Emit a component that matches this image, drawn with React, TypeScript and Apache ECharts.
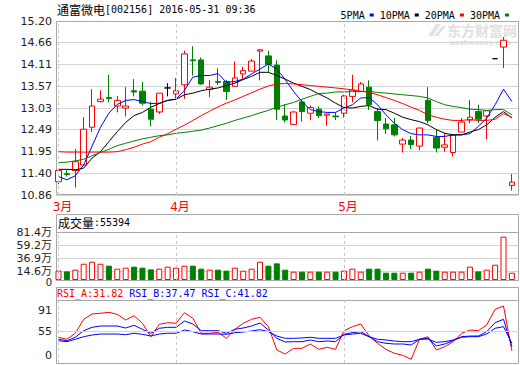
import React, { useEffect, useRef } from 'react';
import * as echarts from 'echarts';

const stockName = '通富微电';
const stockCode = '002156';
const stamp = '2016-05-31 09:36';
const lastVolume = 55394;
const rsiNow = [31.82, 37.47, 41.82];

const dates = [
  '2016-03-14', '2016-03-15', '2016-03-16', '2016-03-17', '2016-03-18', '2016-03-21', '2016-03-22',
  '2016-03-23', '2016-03-24', '2016-03-25', '2016-03-28', '2016-03-29', '2016-03-30', '2016-03-31',
  '2016-04-01', '2016-04-05', '2016-04-06', '2016-04-07', '2016-04-08', '2016-04-11', '2016-04-12',
  '2016-04-13', '2016-04-14', '2016-04-15', '2016-04-18', '2016-04-19', '2016-04-20', '2016-04-21',
  '2016-04-22', '2016-04-25', '2016-04-26', '2016-04-27', '2016-04-28', '2016-04-29',
  '2016-05-03', '2016-05-04', '2016-05-05', '2016-05-06', '2016-05-09', '2016-05-10', '2016-05-11',
  '2016-05-12', '2016-05-13', '2016-05-16', '2016-05-17', '2016-05-18', '2016-05-19', '2016-05-20',
  '2016-05-23', '2016-05-24', '2016-05-25', '2016-05-26', '2016-05-27', '2016-05-30', '2016-05-31',
];

// [open, close, low, high]
const ohlc: number[][] = [
  [11.19, 11.47, 11.13, 11.50], [11.39, 11.37, 11.32, 11.48], [11.47, 11.69, 11.05, 12.01],
  [11.61, 12.50, 11.60, 12.80], [12.55, 13.08, 12.43, 13.50], [13.19, 13.25, 13.17, 13.47],
  [13.29, 13.27, 13.17, 13.86], [13.08, 13.22, 12.92, 13.33], [13.03, 13.08, 12.82, 13.55],
  [13.46, 13.43, 13.32, 13.75], [13.45, 13.15, 13.09, 13.68], [13.00, 12.75, 12.57, 13.19],
  [12.93, 13.40, 12.88, 13.40], [13.53, 13.53, 13.32, 13.65], [13.38, 13.46, 13.28, 13.78],
  [13.61, 14.38, 13.26, 14.46], [14.23, 14.21, 13.84, 14.57], [14.23, 13.63, 13.61, 14.29],
  [13.49, 13.55, 13.30, 13.73], [13.69, 13.67, 13.60, 14.02], [13.69, 13.44, 13.23, 13.73],
  [13.57, 13.78, 13.57, 14.19], [13.88, 13.96, 13.76, 14.06], [13.95, 14.20, 13.95, 14.25],
  [14.45, 14.48, 13.72, 14.50], [14.33, 14.12, 13.92, 14.46], [14.10, 13.00, 12.73, 14.22],
  [12.83, 12.73, 12.67, 13.13], [12.62, 12.93, 12.61, 12.95], [13.18, 12.94, 12.69, 13.23],
  [12.90, 13.04, 12.73, 13.09], [13.00, 12.84, 12.78, 13.07], [12.85, 12.88, 12.59, 12.89],
  [12.83, 12.81, 12.73, 12.92], [12.90, 13.33, 12.79, 13.36], [13.32, 13.48, 13.17, 13.86],
  [13.44, 13.63, 13.44, 13.68], [13.55, 13.11, 12.98, 13.72], [12.94, 12.72, 12.22, 13.03],
  [12.63, 12.51, 12.38, 12.78], [12.61, 12.36, 12.32, 12.78], [12.13, 12.23, 11.92, 12.28],
  [12.23, 12.12, 12.00, 12.33], [12.08, 12.53, 11.97, 12.54], [13.22, 12.72, 12.65, 13.55],
  [12.30, 12.03, 11.92, 12.50], [12.05, 12.11, 11.94, 12.40], [11.92, 12.35, 11.82, 12.35],
  [12.43, 12.68, 12.43, 12.78], [12.73, 12.80, 12.65, 13.23], [12.94, 12.75, 12.65, 13.11],
  [12.83, 12.96, 12.25, 12.97], [14.26, 14.26, 14.26, 14.26], [14.55, 14.72, 14.03, 14.80],
  [11.10, 11.18, 10.97, 11.38],
];

const ma5 = [
  11.32, 11.24, 11.34, 11.61, 12.08, 12.55, 12.90, 13.12, 13.22, 13.24,
  13.19, 13.14, 13.15, 13.22, 13.25, 13.47, 13.80, 13.84, 13.84, 13.89,
  13.67, 13.69, 13.75, 13.88, 14.00, 14.13, 14.00, 13.74, 13.44, 13.19,
  12.99, 12.94, 12.92, 12.92, 13.03, 13.11, 13.28, 13.29, 13.11, 12.86,
  12.65, 12.49, 12.39, 12.36, 12.36, 12.32, 12.32, 12.36, 12.36, 12.39,
  12.57, 12.78, 13.11, 13.50, 13.19,
];
const ma10 = [
  11.50, 11.50, 11.49, 11.53, 11.78, 11.94, 12.19, 12.44, 12.67, 12.84,
  12.92, 13.05, 13.14, 13.22, 13.25, 13.36, 13.40, 13.46, 13.50, 13.53,
  13.59, 13.65, 13.74, 13.82, 13.92, 13.92, 13.84, 13.75, 13.65, 13.57,
  13.49, 13.38, 13.28, 13.15, 13.04, 13.03, 13.07, 13.09, 13.00, 12.99,
  12.90, 12.80, 12.74, 12.69, 12.61, 12.49, 12.40, 12.36, 12.36, 12.43,
  12.49, 12.61, 12.80, 12.94, 12.78,
];
const ma20 = [
  11.94, 11.93, 11.93, 11.93, 11.93, 11.93, 11.93, 11.94, 11.99, 12.05,
  12.13, 12.19, 12.30, 12.39, 12.50, 12.60, 12.72, 12.84, 12.95, 13.06,
  13.15, 13.23, 13.32, 13.41, 13.50, 13.58, 13.63, 13.64, 13.63, 13.61,
  13.59, 13.57, 13.55, 13.53, 13.51, 13.48, 13.45, 13.42, 13.36, 13.29,
  13.22, 13.14, 13.05, 12.97, 12.86, 12.80, 12.75, 12.72, 12.72, 12.74,
  12.72, 12.72, 12.75, 12.89, 12.80,
];
const ma30 = [
  11.67, 11.68, 11.71, 11.75, 11.84, 11.92, 12.00, 12.09, 12.15, 12.21,
  12.26, 12.30, 12.34, 12.36, 12.40, 12.42, 12.45, 12.48, 12.53, 12.59,
  12.65, 12.72, 12.78, 12.84, 12.91, 12.97, 13.05, 13.11, 13.17, 13.25,
  13.32, 13.39, 13.40, 13.43, 13.43, 13.44, 13.44, 13.44, 13.42, 13.40,
  13.38, 13.36, 13.34, 13.32, 13.28, 13.19, 13.11, 13.07, 13.04, 13.00,
  12.99, 12.97, 12.99, 12.99, 12.86,
];

// 万 (10k lots)
const volumes = [
  15.8, 14.6, 17.5, 27.6, 31.0, 27.6, 24.3, 19.2, 20.9, 22.6,
  20.9, 18.0, 19.2, 22.6, 20.9, 24.3, 24.3, 19.2, 17.5, 17.5,
  15.8, 20.9, 15.8, 19.2, 31.0, 24.3, 28.2, 17.5, 14.1, 14.1,
  14.1, 14.1, 14.1, 14.1, 15.8, 19.2, 14.1, 19.2, 19.2, 12.4,
  12.4, 12.4, 12.4, 14.1, 19.2, 15.8, 14.1, 14.1, 14.1, 22.6,
  14.6, 17.5, 25.9, 73.4, 12.4,
];

const rsiA = [
  44.9, 41.4, 51.9, 76.3, 85.6, 86.8, 88.5, 85.0, 75.1, 82.6,
  69.3, 45.9, 67.6, 70.4, 69.3, 87.8, 78.1, 51.9, 51.9, 53.6,
  43.1, 58.8, 69.3, 76.3, 79.8, 63.4, 22.7, 15.7, 25.6, 25.6,
  33.2, 23.9, 27.4, 23.9, 56.4, 63.4, 68.1, 47.1, 34.4, 23.9,
  16.9, 13.4, 6.5, 41.4, 45.9, 22.7, 28.5, 37.2, 51.9, 57.6,
  56.4, 66.4, 93.8, 99.5, 21.0,
];
const rsiB = [
  41.4, 38.9, 44.9, 56.4, 62.3, 64.6, 64.6, 64.6, 61.1, 65.8,
  58.8, 51.9, 60.6, 62.3, 62.3, 73.3, 68.1, 56.4, 56.4, 56.4,
  51.9, 58.8, 61.1, 64.6, 69.8, 57.6, 43.1, 36.7, 37.2, 37.2,
  40.2, 37.2, 38.4, 37.2, 50.1, 52.9, 54.7, 45.9, 37.2, 34.4,
  33.2, 33.2, 31.4, 41.4, 43.1, 29.7, 33.2, 38.9, 45.9, 47.1,
  47.1, 54.7, 70.4, 76.3, 28.5,
];
const rsiC = [
  38.9, 37.2, 41.4, 45.9, 48.9, 50.6, 50.6, 50.6, 49.4, 51.9,
  50.1, 47.1, 50.6, 51.9, 51.9, 57.6, 54.7, 50.6, 50.6, 50.6,
  50.1, 52.9, 54.1, 55.9, 58.2, 54.7, 47.1, 43.1, 43.1, 43.7,
  44.9, 43.1, 43.1, 43.1, 48.9, 50.6, 51.9, 45.9, 41.4, 40.2,
  38.4, 37.2, 37.2, 41.4, 41.9, 36.1, 37.2, 40.2, 44.9, 45.9,
  45.9, 50.6, 60.6, 63.4, 34.4,
];

const priceTicks = [10.86, 11.40, 11.95, 12.49, 13.03, 13.57, 14.11, 14.66, 15.20];
const volumeTicks = [0, 14.6, 36.9, 59.2, 81.4];
const rsiTicks = [0, 55, 91];

const MONO = '"DejaVu Sans Mono", "Liberation Mono", monospace';
const CJK = '"Noto Sans CJK SC", sans-serif';
const SANS = '"DejaVu Sans", "Noto Sans CJK SC", sans-serif';
const X_MIN = -0.298;
const X_MAX = 54.846;
const GL = 56;
const GW = 463;

const monthStarts = dates
  .map((d, i) => (i === 0 || d.slice(5, 7) !== dates[i - 1].slice(5, 7) ? i : -1))
  .filter((i) => i >= 0);

const monthMarks = monthStarts.map((i) => ({ xAxis: i }));
const dashStyle = { color: '#c8c8c8', type: [3, 3], width: 1 };

function buildOption() {
  const xAxis = [0, 1, 2].map((g) => ({
    type: 'value',
    gridIndex: g,
    min: X_MIN,
    max: X_MAX,
    axisLine: { show: false },
    axisTick: { show: false },
    splitLine: { show: false },
    axisLabel:
      g === 0
        ? {
            show: true,
            customValues: monthStarts,
            formatter: (v: number) => String(parseInt(dates[Math.round(v)].slice(5, 7), 10)) + '月',
            color: '#ff0000',
            fontSize: 12,
            fontFamily: SANS,
            margin: 6,
            padding: [0, 0, 0, 8],
          }
        : { show: false },
  }));

  const axisLabelBase = {
    fontFamily: SANS,
    fontSize: 11,
    color: '#222',
    margin: 4,
  };

  const volMax = volumeTicks[volumeTicks.length - 1];

  const yAxis = [
    {
      type: 'value',
      gridIndex: 0,
      min: priceTicks[0],
      max: priceTicks[priceTicks.length - 1],
      axisLine: { show: false },
      axisTick: { show: false, customValues: priceTicks },
      axisLabel: {
        ...axisLabelBase,
        showMinLabel: true,
        showMaxLabel: true,
        customValues: priceTicks,
        formatter: (v: number) => v.toFixed(2),
      },
      splitLine: { show: true, lineStyle: { color: '#d4d4d4', width: 1 } },
    },
    {
      type: 'value',
      gridIndex: 1,
      position: 'left',
      min: 0,
      max: volMax,
      axisLine: { show: false },
      axisTick: { show: false, customValues: volumeTicks },
      axisLabel: {
        ...axisLabelBase,
        customValues: volumeTicks.filter((v) => v > 0),
        formatter: (v: number) => v.toFixed(1) + '万',
      },
      splitLine: { show: true, lineStyle: { color: '#d4d4d4', width: 1 } },
    },
    {
      type: 'value',
      gridIndex: 2,
      min: 0,
      max: 110,
      axisLine: { show: false },
      axisTick: { show: false },
      axisLabel: {
        ...axisLabelBase,
        showMinLabel: true,
        showMaxLabel: true,
        customValues: rsiTicks,
        formatter: (v: number) => (v === 0 ? '{lift|0}' : String(v)),
        rich: { lift: { padding: [0, 0, 15, 0], fontFamily: SANS, fontSize: 11, color: '#222' } },
      },
      splitLine: { show: false },
    },
    {
      // second left axis on the volume grid carrying only its zero label
      type: 'value',
      gridIndex: 1,
      position: 'left',
      offset: 0,
      min: 0,
      max: volMax,
      axisLine: { show: false },
      axisTick: { show: false },
      splitLine: { show: false },
      axisLabel: {
        ...axisLabelBase,
        showMinLabel: true,
        customValues: [volumeTicks[0]],
        formatter: () => '{z|0}',
        rich: { z: { padding: [5, 0, 0, 0], fontFamily: SANS, fontSize: 10, color: '#222' } },
      },
    },
  ];

  const maLine = (name: string, data: number[], color: string) => ({
    name,
    type: 'line',
    xAxisIndex: 0,
    yAxisIndex: 0,
    data: data.map((v, i) => [i, v]),
    showSymbol: false,
    symbol: 'none',
    itemStyle: { color },
    lineStyle: { color, width: 1 },
    z: 3,
  });

  const rsiLine = (name: string, data: number[], color: string, extra: any = {}) => ({
    name,
    type: 'line',
    xAxisIndex: 2,
    yAxisIndex: 2,
    data: data.map((v, i) => [i, v]),
    showSymbol: false,
    symbol: 'none',
    itemStyle: { color },
    lineStyle: { color, width: 1 },
    ...extra,
  });

  const frame = (x: number, y: number, w: number, h: number) => ({
    type: 'rect',
    shape: { x, y, width: w, height: h },
    style: { fill: 'none', stroke: '#a8a8a8', lineWidth: 1 },
    silent: true,
    z: 1,
  });

  return {
    animation: false,
    backgroundColor: '#ffffff',
    grid: [
      { left: GL, top: 21, width: GW, height: 174 },
      { left: GL, top: 232, width: GW, height: 48 },
      { left: GL, top: 300, width: GW, height: 63 },
    ],
    legend: {
      data: ['5PMA', '10PMA', '20PMA', '30PMA'],
      right: 6,
      top: 5,
      icon: 'rect',
      itemWidth: 4,
      itemHeight: 3,
      itemGap: 6,
      align: 'right',
      selectedMode: false,
      textStyle: { fontFamily: MONO, fontSize: 10, color: '#000' },
    },
    xAxis,
    yAxis,
    graphic: [
      {
        type: 'polygon',
        silent: true,
        z: 0,
        shape: { points: [[428, 36], [436, 24], [441, 24], [433, 36]] },
        style: { fill: '#e2e2e2' },
      },
      {
        type: 'polygon',
        silent: true,
        z: 0,
        shape: { points: [[434, 36], [442, 26], [446, 26], [438, 36]] },
        style: { fill: '#e2e2e2' },
      },
      {
        type: 'text',
        x: 447,
        y: 23,
        silent: true,
        z: 0,
        style: { text: '东方财富网', fontFamily: CJK, fontSize: 14, fontWeight: 'bold', fill: '#e0e0e0' },
      },
      {
        type: 'text',
        x: 450,
        y: 39,
        silent: true,
        z: 0,
        style: { text: 'eastmoney.com', fontFamily: SANS, fontSize: 7, fontWeight: 'bold', fill: '#e0e0e0' },
      },
      frame(56.5, 21.5, 462, 173),
      frame(56.5, 214.5, 462, 18),
      frame(56.5, 232.5, 462, 48),
      frame(56.5, 287.5, 462, 13),
      frame(56.5, 300.5, 462, 63),
      {
        type: 'text',
        x: 57,
        y: 3,
        silent: true,
        style: {
          text: `{c|${stockName}}{a|[${stockCode}] ${stamp}}`,
          rich: {
            c: { fontFamily: CJK, fontSize: 12, fill: '#000' },
            a: { fontFamily: MONO, fontSize: 10, fill: '#000' },
          },
        },
      },
      {
        type: 'text',
        x: 58,
        y: 216,
        silent: true,
        style: {
          text: `{c|成交量}{a|:${lastVolume}}`,
          rich: {
            c: { fontFamily: CJK, fontSize: 12, fill: '#000' },
            a: { fontFamily: MONO, fontSize: 10, fill: '#000' },
          },
        },
      },
      {
        type: 'text',
        x: 57,
        y: 288,
        silent: true,
        style: {
          text: `{r|RSI_A:${rsiNow[0].toFixed(2)} }{b|RSI_B:${rsiNow[1].toFixed(2)} RSI_C:${rsiNow[2].toFixed(2)}}`,
          rich: {
            r: { fontFamily: MONO, fontSize: 10, fill: '#ff0000' },
            b: { fontFamily: MONO, fontSize: 10, fill: '#0000ff' },
          },
        },
      },
    ],
    series: [
      {
        name: 'K',
        type: 'candlestick',
        xAxisIndex: 0,
        yAxisIndex: 0,
        dimensions: ['idx', 'open', 'close', 'lowest', 'highest'],
        encode: { x: 'idx', y: ['open', 'close', 'lowest', 'highest'] },
        data: ohlc.map((r, i) => [i, r[0], r[1], r[2], r[3]]),
        barWidth: 6,
        clip: false,
        itemStyle: {
          color: '#ffffff',
          color0: '#008000',
          borderColor: '#ff0000',
          borderColor0: '#008000',
          borderColorDoji: '#000000',
          borderWidth: 1,
        },
        markLine: {
          silent: true,
          symbol: ['none', 'none'],
          label: { show: false },
          lineStyle: dashStyle,
          data: monthMarks,
        },
        z: 2,
      },
      maLine('5PMA', ma5, '#0000ff'),
      maLine('10PMA', ma10, '#000000'),
      maLine('20PMA', ma20, '#ff0000'),
      maLine('30PMA', ma30, '#008000'),
      {
        name: 'VOL',
        type: 'bar',
        xAxisIndex: 1,
        yAxisIndex: 1,
        barWidth: 6,
        clip: false,
        data: volumes.map((v, i) => {
          const up = ohlc[i][1] >= ohlc[i][0];
          return {
            value: [i, v],
            itemStyle: up
              ? { color: '#ffffff', borderColor: '#ff0000', borderWidth: 1 }
              : { color: '#008000', borderColor: '#008000', borderWidth: 1 },
          };
        }),
        markLine: {
          silent: true,
          symbol: ['none', 'none'],
          label: { show: false },
          lineStyle: dashStyle,
          data: monthMarks,
        },
      },
      rsiLine('RSI_A', rsiA, '#ff0000', {
        markLine: {
          silent: true,
          symbol: ['none', 'none'],
          label: { show: false },
          lineStyle: dashStyle,
          data: [
            ...monthMarks,
            { yAxis: rsiTicks[1], lineStyle: { color: '#d4d4d4', type: 'solid', width: 1 } },
          ],
        },
      }),
      rsiLine('RSI_B', rsiB, '#0000ff'),
      rsiLine('RSI_C', rsiC, '#0000ff'),
    ],
  };
}

export default function App() {
  const ref = useRef<HTMLDivElement>(null);
  useEffect(() => {
    document.body.style.margin = '0';
    if (!ref.current) return;
    const chart = echarts.init(ref.current, null, { renderer: 'svg' });
    chart.setOption(buildOption() as any);
    return () => chart.dispose();
  }, []);
  return <div ref={ref} style={{ width: 520, height: 365 }} />;
}
